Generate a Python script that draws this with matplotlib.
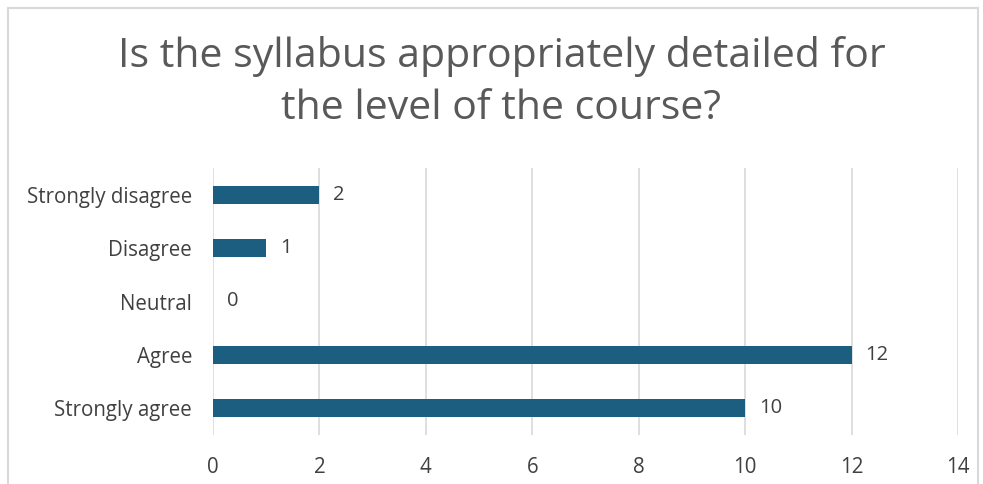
import matplotlib
matplotlib.use("Agg")
import matplotlib.pyplot as plt
from matplotlib.lines import Line2D

categories = ["Strongly agree", "Agree", "Neutral", "Disagree", "Strongly disagree"]
values = [10, 12, 0, 1, 2]
xticks = [0, 2, 4, 6, 8, 10, 12, 14]
title = "Is the syllabus appropriately detailed for\nthe level of the course?"

plt.rcParams['font.family'] = ['Open Sans', 'DejaVu Sans']

fig = plt.figure(figsize=(9.83, 4.84), dpi=100)
ax = fig.add_axes([213/983, 49/484, 745/983, 267/484])

bar_color = "#1b5e80"
text_color = "#404040"
grid_color = "#d9d9d9"

ypos = list(range(len(categories)))
ax.barh(ypos, values, height=0.34, color=bar_color)
for y, v in zip(ypos, values):
    ax.annotate(str(v), (v, y), xytext=(14, 0), textcoords="offset pixels",
                va="center", ha="left", fontsize=14.5, color=text_color)

ax.set_xlim(0, 14)
ax.set_ylim(-0.5, len(categories) - 0.5)
ax.set_xticks(xticks)
ax.set_xticklabels([str(t) for t in xticks])
ax.set_yticks(ypos)
ax.set_yticklabels(categories)
ax.tick_params(axis="both", length=0, labelsize=14.8, labelcolor=text_color)
ax.tick_params(axis="y", pad=15)
ax.tick_params(axis="x", pad=16)
ax.grid(axis="x", color=grid_color, linewidth=1.2)
ax.set_axisbelow(True)
for s in ax.spines.values():
    s.set_visible(False)

fig.text(0.51, 0.829, title, ha="center", va="center", fontsize=29.5, color="#595959",
         linespacing=1.38)

# chart border
bc = "#d9d9d9"
fig.add_artist(Line2D([8/983, 8/983], [0, 1 - 8/484], transform=fig.transFigure, color=bc, lw=1.5))
fig.add_artist(Line2D([8/983, 978/983], [1 - 8/484, 1 - 8/484], transform=fig.transFigure, color=bc, lw=1.5))
fig.add_artist(Line2D([978/983, 978/983], [0, 1 - 8/484], transform=fig.transFigure, color=bc, lw=1.5))

fig.savefig("out.png", dpi=100)
